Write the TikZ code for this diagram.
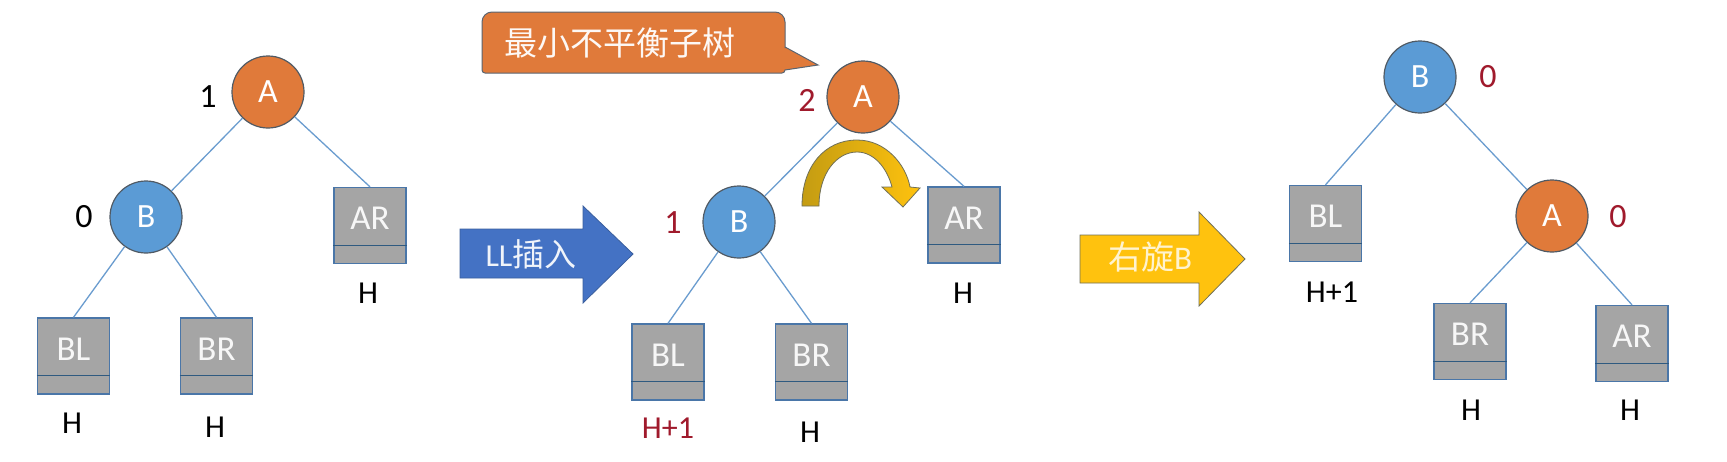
\documentclass[tikz,border=0pt]{standalone}
\usepackage{fontspec}
\setmainfont{Carlito}
\newfontfamily\cjk{Noto Sans CJK SC}
\definecolor{orA}{HTML}{E07A3A}
\definecolor{blB}{HTML}{5B9BD5}
\definecolor{grbox}{HTML}{A5A5A5}
\definecolor{boxline}{HTML}{4A76A8}
\definecolor{divline}{HTML}{2F5A80}
\definecolor{edgec}{HTML}{6A9CCF}
\definecolor{circline}{HTML}{505A64}
\definecolor{redn}{HTML}{A01A2C}
\definecolor{llblue}{HTML}{4472C4}
\definecolor{llbd}{HTML}{3A5F9E}
\definecolor{gold}{HTML}{FFC20E}
\definecolor{golddark}{HTML}{C49C12}
\definecolor{goldbd}{HTML}{707058}
\definecolor{callbd}{HTML}{5A6470}
\newcommand\tbx[3]{%
  \node[tbox] (#1) at (#2) {};
  \draw[divline, line width=1.3pt] ([yshift=19pt]#1.south west) -- ([yshift=19pt]#1.south east);
  \node[boxtxt] (#1-t) at ([yshift=7pt]#1.center) {#3};
}
\begin{document}
\begin{tikzpicture}[x=1pt,y=-1pt,
  circA/.style={circle, fill=orA, draw=circline, line width=1.2pt, minimum size=72pt, inner sep=0pt, text=white, font=\fontsize{34}{34}\selectfont},
  circB/.style={circA, fill=blB},
  tbox/.style={rectangle, fill=grbox, draw=boxline, line width=1.3pt, minimum width=72pt, minimum height=76pt, inner sep=0pt},
  boxtxt/.style={text=white!94!gray, font=\fontsize{35}{35}\selectfont, inner sep=0pt},
  hlab/.style={font=\fontsize{32}{32}\selectfont, inner sep=0pt},
  bal/.style={font=\fontsize{34}{34}\selectfont, inner sep=0pt},
  rd/.style={text=redn},
  edge/.style={draw=edgec, line width=1.3pt}
]
\useasboundingbox (0,0) rectangle (1727,461);
\fill[white] (0,0) rectangle (1727,461);

% ---------- left tree ----------
\node[circA] (LA) at (268,92) {A};
\node[circB] (LB) at (146,217) {B};
\tbx{LBL}{73.5,356}{BL}
\tbx{LBR}{216.5,356}{BR}
\tbx{LAR}{370,225.5}{AR}
\draw[edge] (LA) -- (LB);
\draw[edge] (LA) -- (LAR.north);
\draw[edge] (LB) -- (LBL.north);
\draw[edge] (LB) -- (LBR.north);
\node[bal] (LAn) at (208,97) {1};
\node[bal] (LBn) at (84,217) {0};
\node[hlab] (LBLh) at (72,423) {H};
\node[hlab] (LBRh) at (215,427) {H};
\node[hlab] (LARh) at (368,293) {H};

% ---------- LL arrow ----------
\draw[fill=llblue, draw=llbd, line width=0.8pt] (460,229) -- (583,229) -- (583,206) -- (633,254) -- (583,303) -- (583,278) -- (460,278) -- cycle;
\node[inner sep=0pt, text=white!92!llblue, font=\fontsize{32}{32}\selectfont] (LLt) at (531,254) {LL{\cjk 插入}};

% ---------- middle tree ----------
\draw[fill=orA, draw=callbd, line width=1pt] (482,42) [rounded corners=10pt] -- (482,12) -- (785,12) -- (785,38) [sharp corners] -- (785,47) -- (818,65) -- (785,70) [rounded corners=3pt] -- (785,73) -- (482,73) -- cycle;
\node[inner sep=0pt, text=white!95!orA, font=\fontsize{33}{33}\selectfont\cjk] (callt) at (620,43) {最小不平衡子树};

\node[circA] (MA) at (863,97) {A};
\node[circB] (MB) at (739,222) {B};
\tbx{MBL}{668,362}{BL}
\tbx{MBR}{811.5,362}{BR}
\tbx{MAR}{964,225}{AR}
\draw[edge] (MA) -- (MB);
\draw[edge] (MA) -- (MAR.north);
\draw[edge] (MB) -- (MBL.north);
\draw[edge] (MB) -- (MBR.north);
\node[bal, rd] (MAn) at (807,100) {2};
\node[bal, rd] (MBn) at (673,223) {1};
\node[hlab, rd] (MBLh) at (668,428) {H+1};
\node[hlab] (MBRh) at (810,432) {H};
\node[hlab] (MARh) at (963,293) {H};

% rotation arrow
\shade[left color=golddark, right color=gold, draw=goldbd, line width=0.8pt]
  (802,206) .. controls (802,166) and (825,140) .. (857,140)
  .. controls (886,140) and (906,165) .. (910,187)
  -- (920,188) -- (903,207) -- (882,187) -- (892,187)
  .. controls (887,168) and (874,152) .. (857,152)
  .. controls (837,152) and (819,173) .. (819,206) -- cycle;

% ---------- rotate arrow ----------
\draw[fill=gold, draw=goldbd, line width=0.8pt] (1080,235) -- (1199,235) -- (1199,212) -- (1245,259) -- (1199,306) -- (1199,283) -- (1080,283) -- cycle;
\node[inner sep=0pt, text=white!80!gold, font=\fontsize{33}{33}\selectfont] (RBt) at (1150,257) {{\cjk 右旋}B};

% ---------- right tree ----------
\node[circB] (RB) at (1420,77) {B};
\node[circA] (RA) at (1552,216) {A};
\tbx{RBL}{1325.5,223.5}{BL}
\tbx{RBR}{1470,341.5}{BR}
\tbx{RAR}{1632,343.5}{AR}
\draw[edge] (RB) -- (RBL.north);
\draw[edge] (RB) -- (RA);
\draw[edge] (RA) -- (RBR.north);
\draw[edge] (RA) -- (RAR.north);
\node[bal, rd] (RBn) at (1488,77) {0};
\node[bal, rd] (RAn) at (1618,217) {0};
\node[hlab] (RBLh) at (1332,292) {H+1};
\node[hlab] (RBRh) at (1471,410) {H};
\node[hlab] (RARh) at (1630,410) {H};
\end{tikzpicture}
\end{document}
